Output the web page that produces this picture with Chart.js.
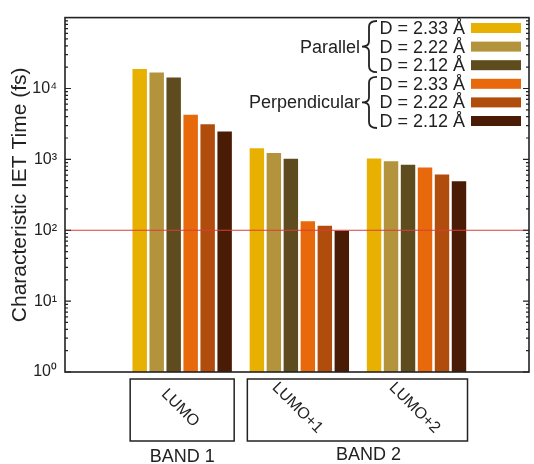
<!DOCTYPE html>
<html>
<head>
<meta charset="utf-8">
<script src="https://cdn.jsdelivr.net/npm/chart.js@4"></script>
<style>
  body { margin: 0; background: #fff; }
  #wrap { width: 534px; height: 464px; }
</style>
</head>
<body>
<div id="wrap"><canvas id="myChart"></canvas></div>
<script>
// orbitals (x positions 1,2,3) and bands
const categorias = ["LUMO", "LUMO+1", "LUMO+2"];
const bandas = ["BAND 1", "BAND 2"];
const grupos = ["Parallel", "Perpendicular"];
const series = ["D = 2.33 Å", "D = 2.22 Å", "D = 2.12 Å", "D = 2.33 Å", "D = 2.22 Å", "D = 2.12 Å"];
const colores = ["#e8b000", "#b3943c", "#5e4b1e", "#e8680c", "#b04c0c", "#4a1c06"];

// characteristic IET time (fs), one array per series
const par233 = [18900, 1440, 1030];
const par222 = [16800, 1230, 940];
const par212 = [14300, 1020, 840];
const perp233 = [4260, 134, 770];
const perp222 = [3140, 116, 610];
const perp212 = [2480, 98, 490];
const valores = [par233, par222, par212, perp233, perp222, perp212];

const yTicks = [1, 10, 100, 1000, 10000];
const yLabels = ["10⁰", "10¹", "10²", "10³", "10⁴"];
const lineaRef = 100;

const fuente = "'Liberation Sans', Arial, sans-serif";

const datasets = valores.map((v, i) => ({
  label: series[i],
  data: v.map((y, j) => ({ x: j + 1, y: y })),
  backgroundColor: colores[i],
  borderWidth: 0,
  categoryPercentage: 0.87,
  barPercentage: 0.85
}));

const extras = {
  id: "extras",
  afterDatasetsDraw(chart) {
    const ctx = chart.ctx;
    const a = chart.chartArea;
    const y = chart.scales.y;
    const x = chart.scales.x;
    ctx.save();
    // red reference line
    const yr = y.getPixelForValue(lineaRef);
    ctx.strokeStyle = "#d83c3c";
    ctx.lineWidth = 1.2;
    ctx.beginPath();
    ctx.moveTo(a.left, yr);
    ctx.lineTo(a.right, yr);
    ctx.stroke();

    // frame
    ctx.strokeStyle = "#222";
    ctx.lineWidth = 1.6;
    ctx.strokeRect(a.left, a.top, a.right - a.left, a.bottom - a.top);

    // inward ticks on both sides
    ctx.lineWidth = 1.2;
    for (let d = 0; d < 5; d++) {
      for (let m = 1; m <= 9; m++) {
        const py = y.getPixelForValue(m * Math.pow(10, d));
        const len = m === 1 ? 6 : 3;
        ctx.beginPath();
        ctx.moveTo(a.left, py); ctx.lineTo(a.left + len, py);
        ctx.moveTo(a.right, py); ctx.lineTo(a.right - len, py);
        ctx.stroke();
      }
    }

    // category boxes with rotated labels
    const cx = categorias.map((c, i) => x.getPixelForValue(i + 1));
    ctx.strokeStyle = "#222";
    ctx.lineWidth = 1.5;
    const bTop = a.bottom + 7, bBot = a.bottom + 69;
    ctx.strokeRect(cx[0] - 52, bTop, 104, bBot - bTop);
    ctx.strokeRect(cx[1] - 52, bTop, cx[2] - cx[1] + 103, bBot - bTop);

    ctx.fillStyle = "#222";
    ctx.font = "16px " + fuente;
    ctx.textAlign = "center";
    ctx.textBaseline = "middle";
    categorias.forEach((c, i) => {
      ctx.save();
      ctx.translate(cx[i] - 2, a.bottom + 36);
      ctx.rotate(Math.PI / 4);
      ctx.fillText(c, 0, 0);
      ctx.restore();
    });
    ctx.font = "18px " + fuente;
    ctx.fillText(bandas[0], cx[0], a.bottom + 85);
    ctx.fillText(bandas[1], (cx[1] - 52 + cx[2] + 51) / 2 + 11, a.bottom + 83);

    // legend with braces
    const sx = 471, sw = 50, sh = 10;
    const rowY = series.map((s, i) => 28 + i * 18.6);
    ctx.font = "18px " + fuente;
    ctx.textAlign = "right";
    series.forEach((s, i) => {
      ctx.fillStyle = colores[i];
      ctx.fillRect(sx, rowY[i] - sh / 2, sw, sh);
      ctx.fillStyle = "#222";
      ctx.fillText(s, 465, rowY[i] + 1);
    });
    grupos.forEach((g, k) => {
      const y0 = rowY[k * 3] - 7, y2 = rowY[k * 3 + 2] + 7, ym = (y0 + y2) / 2;
      ctx.fillStyle = "#222";
      ctx.fillText(g, 360, ym + 1);
      // curly brace
      const xr = 377, xm = 369, xt = 362;
      ctx.strokeStyle = "#222";
      ctx.lineWidth = 1.8;
      ctx.beginPath();
      ctx.moveTo(xr, y0);
      ctx.quadraticCurveTo(xm, y0, xm, y0 + 6);
      ctx.lineTo(xm, ym - 5);
      ctx.quadraticCurveTo(xm, ym, xt, ym);
      ctx.quadraticCurveTo(xm, ym, xm, ym + 5);
      ctx.lineTo(xm, y2 - 6);
      ctx.quadraticCurveTo(xm, y2, xr, y2);
      ctx.stroke();
    });
    ctx.restore();
  }
};

const config = {
  type: "bar",
  data: { datasets: datasets },
  options: {
    responsive: true,
    maintainAspectRatio: false,
    animation: false,
    layout: { padding: { left: 0, top: 13, right: 5, bottom: 92 } },
    plugins: { legend: { display: false }, tooltip: { enabled: false } },
    scales: {
      x: {
        type: "linear",
        min: 0,
        max: 3.96,
        offset: false,
        display: false,
        afterBuildTicks: (s) => { s.ticks = [1, 2, 3].map((v) => ({ value: v })); }
      },
      y: {
        type: "logarithmic",
        min: 1,
        max: 100000,
        afterBuildTicks: (s) => { s.ticks = yTicks.map((v) => ({ value: v })); },
        afterFit: (s) => { s.width = 65; },
        border: { display: false },
        grid: { display: false, drawTicks: false },
        ticks: {
          padding: 8,
          color: "#222",
          font: { family: fuente, size: 16 },
          callback: (v) => yLabels[yTicks.indexOf(v)]
        },
        title: {
          display: true,
          text: "Characteristic IET Time (fs)",
          color: "#222",
          font: { family: fuente, size: 21 },
          padding: { top: 8, bottom: 0 }
        }
      }
    }
  },
  plugins: [extras]
};

const myChart = new Chart(document.getElementById("myChart"), config);
</script>
</body>
</html>
